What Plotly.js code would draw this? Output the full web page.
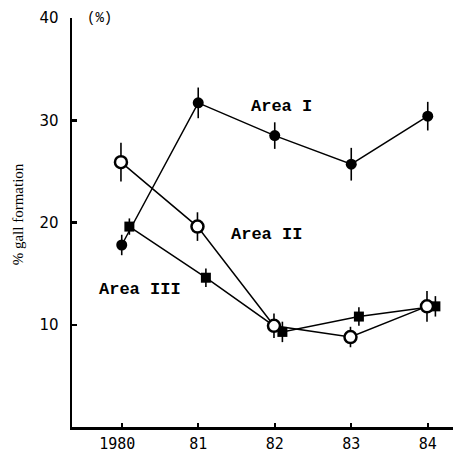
<!DOCTYPE html>
<html>
<head>
<meta charset="utf-8">
<script src="https://cdn.plot.ly/plotly-3.0.1.min.js"></script>
<style>html,body{margin:0;padding:0;background:#fff;}#chart{width:453px;height:453px;}</style>
</head>
<body>
<div id="chart"></div>
<script>
const years = [1980, 1981, 1982, 1983, 1984];
const tickLabels = ['1980\u00a0', '81', '82', '83', '84'];
const areaI = [17.8, 31.7, 28.5, 25.7, 30.4];
const areaIErr = [1.0, 1.5, 1.3, 1.6, 1.4];
const areaII = [25.9, 19.6, 9.9, 8.8, 11.8];
const areaIIErr = [1.9, 1.4, 1.2, 1.0, 1.5];
const areaIII = [19.6, 14.6, 9.3, 10.8, 11.8];
const areaIIIErr = [0.8, 0.9, 1.0, 0.9, 1.0];
const seriesNames = ['Area I', 'Area II', 'Area III'];

// small horizontal staggering of series (style)
const shift = {I: 0, II: -0.01, III: 0.1};
const xs = s => years.map(y => y + s);

const errStyle = arr => ({type: 'data', array: arr, visible: true, width: 0, thickness: 1.6, color: '#000'});

const traces = [
  {x: xs(shift.III), y: areaIII, name: seriesNames[2], mode: 'lines+markers', type: 'scatter',
   line: {color: '#000', width: 1.5}, marker: {symbol: 'square', size: 10, color: '#000'},
   error_y: errStyle(areaIIIErr)},
  {x: xs(shift.II), y: areaII, name: seriesNames[1], mode: 'lines+markers', type: 'scatter',
   line: {color: '#000', width: 1.5}, marker: {symbol: 'circle', size: 12, color: '#fff', line: {color: '#000', width: 2.5}},
   error_y: errStyle(areaIIErr)},
  {x: xs(shift.I), y: areaI, name: seriesNames[0], mode: 'lines+markers', type: 'scatter',
   line: {color: '#000', width: 1.5}, marker: {symbol: 'circle', size: 11, color: '#000'},
   error_y: errStyle(areaIErr)}
];

const layout = {
  width: 453, height: 453,
  margin: {l: 72, r: 0, t: 18, b: 25.5},
  paper_bgcolor: '#fff', plot_bgcolor: '#fff',
  showlegend: false,
  xaxis: {
    range: [1979.35, 1984.33], tickmode: 'array', tickvals: years, ticktext: tickLabels,
    showgrid: false, zeroline: false, showline: true, linecolor: '#000', linewidth: 2.5,
    ticks: 'inside', ticklen: 4, tickwidth: 2, tickcolor: '#000',
    tickfont: {family: 'DejaVu Sans Mono', size: 15, color: '#000'}, ticklabelstandoff: 1
  },
  yaxis: {
    range: [0, 40], tickvals: [10, 20, 30, 40],
    showgrid: false, zeroline: false, showline: true, linecolor: '#000', linewidth: 2.5,
    ticks: 'inside', ticklen: 5, tickwidth: 2.5, tickcolor: '#000',
    tickfont: {family: 'DejaVu Sans', size: 15, color: '#000'}, ticklabelstandoff: 8
  },
  annotations: [
    {text: '% gall formation', xref: 'paper', yref: 'paper', x: -54/381, y: 0.52, textangle: -90,
     showarrow: false, xanchor: 'center', yanchor: 'middle', font: {family: 'Liberation Serif', size: 15, color: '#000'}},
    {text: '(%)', xref: 'paper', yref: 'paper', x: 13/381, y: 1.0, showarrow: false, xanchor: 'left', yanchor: 'middle',
     font: {family: 'Liberation Mono', size: 14, color: '#000'}},
    {text: '<b>' + seriesNames[0] + '</b>', xref: 'paper', yref: 'paper', x: (281-72)/381, y: (427.5-107)/409.5,
     showarrow: false, xanchor: 'center', yanchor: 'middle', font: {family: 'Liberation Mono', size: 17, color: '#000'}},
    {text: '<b>' + seriesNames[1] + '</b>', xref: 'paper', yref: 'paper', x: (266-72)/381, y: (427.5-235)/409.5,
     showarrow: false, xanchor: 'center', yanchor: 'middle', font: {family: 'Liberation Mono', size: 17, color: '#000'}},
    {text: '<b>' + seriesNames[2] + '</b>', xref: 'paper', yref: 'paper', x: (140-72)/381, y: (427.5-290)/409.5,
     showarrow: false, xanchor: 'center', yanchor: 'middle', font: {family: 'Liberation Mono', size: 17, color: '#000'}}
  ]
};

Plotly.newPlot('chart', traces, layout, {staticPlot: true, displayModeBar: false});
</script>
</body>
</html>
